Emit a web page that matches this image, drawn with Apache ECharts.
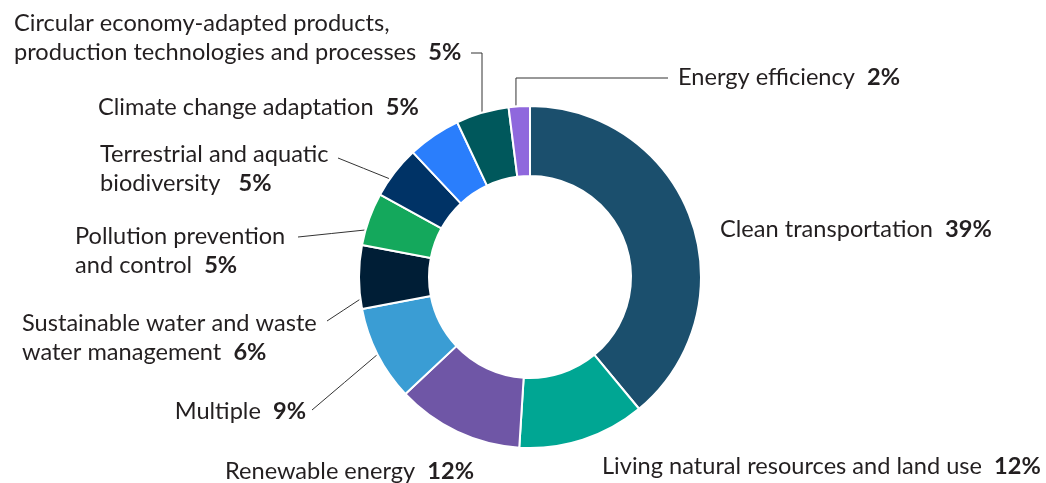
<!DOCTYPE html>
<html>
<head>
<meta charset="utf-8">
<script src="https://cdn.jsdelivr.net/npm/echarts@6/dist/echarts.min.js"></script>
<style>
html,body{margin:0;padding:0;background:#fff;}
#chart{width:1046px;height:483px;}
</style>
</head>
<body>
<div id="chart"></div>
<script>
// ---- data ----
const categories = [
  'Clean transportation',
  'Living natural resources and land use',
  'Renewable energy',
  'Multiple',
  'Sustainable water and waste\nwater management',
  'Pollution prevention\nand control',
  'Terrestrial and aquatic\nbiodiversity',
  'Climate change adaptation',
  'Circular economy-adapted products,\nproduction technologies and processes',
  'Energy efficiency'
];
const values = [39, 12, 12, 9, 6, 5, 5, 5, 5, 2];
const colors = ['#1b4f6d', '#00a693', '#6f56a6', '#3a9dd4', '#001e36', '#14a85c', '#003366', '#2a7efc', '#00585c', '#8f68dd'];

// ---- label layout (annotation placement) ----
const CX = 530, CY = 277, R_IN = 101, R_OUT = 171;
const labelPlace = [
  {x: 720, y: 229, align: 'left'},
  {x: 602, y: 466, align: 'left'},
  {x: 225, y: 471, align: 'left'},
  {x: 306, y: 411, align: 'right', frac: 0.675, end: [312, 410]},
  {x: 22,  y: 338, align: 'left',  frac: 0.729, end: [327, 321]},
  {x: 75,  y: 251, align: 'left',  frac: 0.794, end: [298, 237]},
  {x: 100, y: 169, align: 'left',  frac: 0.847, end: [338, 158], gap: '   '},
  {x: 98,  y: 107, align: 'left'},
  {x: 14,  y: 38,  align: 'left',  frac: 0.955, elbow: 53, end: [471, 53]},
  {x: 678, y: 77,  align: 'left',  frac: 0.987, elbow: 78, end: [668, 78]}
];

function anchor(frac) {
  const t = frac * Math.PI * 2;
  return [CX + (R_OUT + 1) * Math.sin(t), CY - (R_OUT + 1) * Math.cos(t)];
}

const chart = echarts.init(document.getElementById('chart'), null, {renderer: 'canvas'});

const data = categories.map((name, i) => {
  const p = labelPlace[i];
  return {
    name: name,
    value: values[i],
    itemStyle: {color: colors[i]},
    labelLine: {show: p.frac !== undefined}
  };
});

const FS = 23.6;

chart.setOption({
  animation: false,
  series: [{
    type: 'pie',
    center: [CX, CY],
    radius: [R_IN, R_OUT],
    startAngle: 90,
    clockwise: true,
    avoidLabelOverlap: false,
    itemStyle: {borderColor: '#ffffff', borderWidth: 2},
    label: {
      show: true,
      position: 'outside',
      fontFamily: 'Lato',
      fontSize: FS,
      color: '#231f20',
      lineHeight: 29,
      formatter: function (p) {
        const lines = p.name.split('\n');
        const last = lines.pop();
        const head = lines.map(l => '{n|' + l + '}').join('\n');
        const gap = labelPlace[p.dataIndex].gap || '  ';
        return (head ? head + '\n' : '') + '{n|' + last + '}' + gap + '{b|' + p.value + '%}';
      },
      rich: {
        n: {fontFamily: 'Lato', fontSize: FS, color: '#231f20', lineHeight: 29},
        b: {fontFamily: 'Lato', fontSize: FS, fontWeight: 'bold', color: '#231f20', lineHeight: 29}
      }
    },
    labelLine: {show: true, lineStyle: {color: '#333333', width: 1}},
    labelLayout: function (params) {
      const p = labelPlace[params.dataIndex];
      const res = {x: p.x, y: p.y, align: p.align, verticalAlign: 'middle'};
      if (p.frac !== undefined) {
        const a = anchor(p.frac);
        let mid;
        if (p.elbow !== undefined) {
          mid = [a[0], p.elbow];
        } else {
          mid = [(a[0] + p.end[0]) / 2, (a[1] + p.end[1]) / 2];
        }
        res.labelLinePoints = [a, mid, p.end];
      }
      return res;
    },
    data: data
  }]
});
</script>
</body>
</html>
